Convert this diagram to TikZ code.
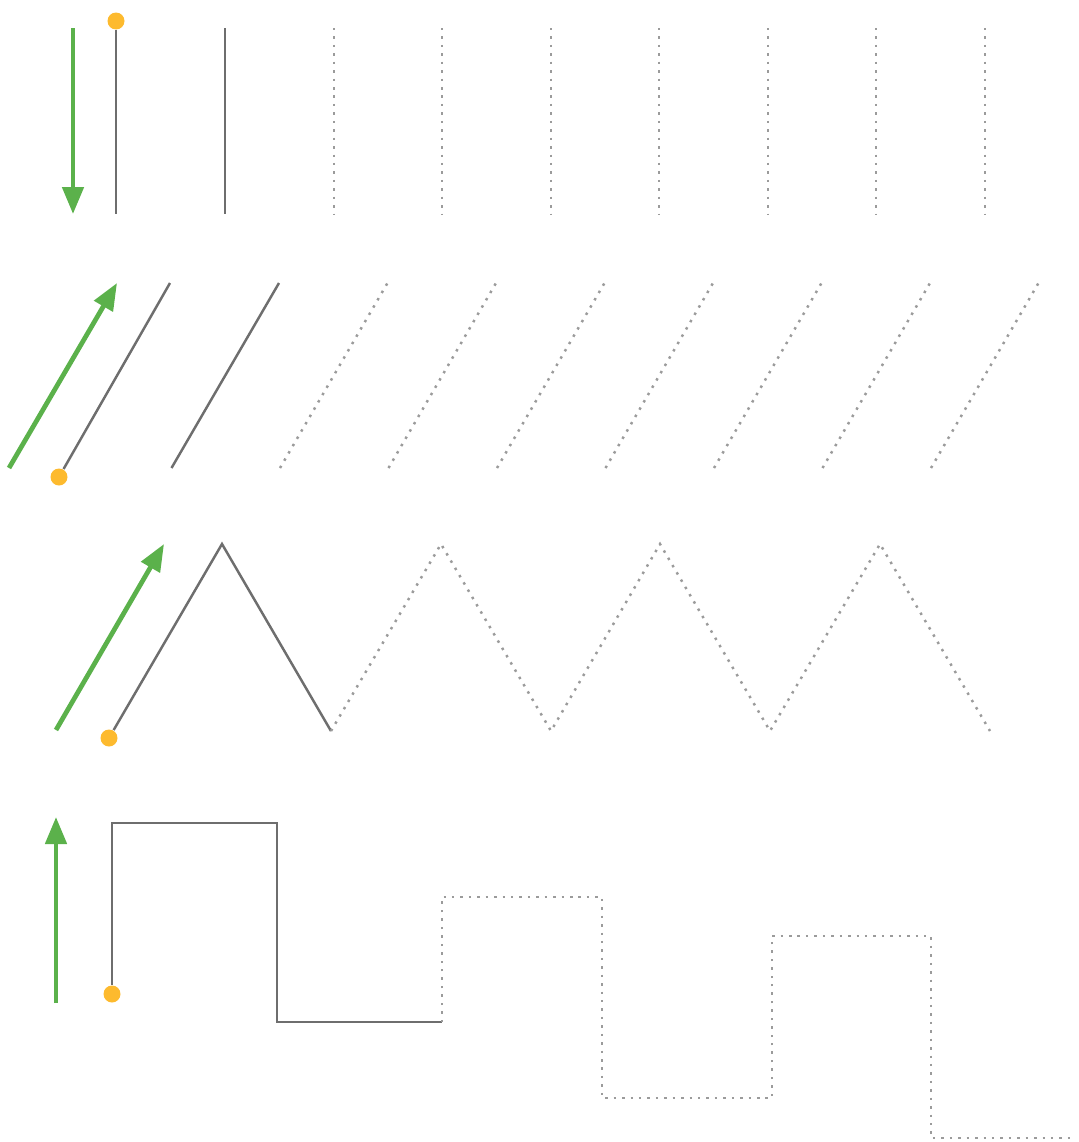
\documentclass[tikz,border=0pt]{standalone}
\usepackage{tikz}
\usetikzlibrary{arrows.meta}
\definecolor{mygreen}{HTML}{5BB14B}
\definecolor{myorange}{HTML}{FDBA2E}
\definecolor{mygray}{HTML}{6E6E6E}
\definecolor{mylightgray}{HTML}{9B9B9B}
\tikzset{
	dirarrow/.style={
			draw=mygreen,
			line width=1.35pt,
			-{Triangle[length=2.7mm, width=2.1mm]}
		},
	solidline/.style={
			draw=mygray,
			line width=0.7pt
		},
	dotline/.style={
			draw=mylightgray,
			line width=0.7pt,
			dash pattern=on 0.7pt off 1.7pt
		},
	startdot/.style={
			circle,
			draw=none,
			fill=myorange,
			minimum size=1.7mm,
			inner sep=0pt
		}
}

\begin{document}
\begin{tikzpicture}[x=0.1mm, y=-0.1mm]
\useasboundingbox (0,0) rectangle (1078,1142);

% row 1
\node[startdot] (d1) at (116,21) {};
\draw[dirarrow] (73,28) -- (73,214);
\draw[solidline] (d1) -- (116,214);
\draw[solidline] (225,28) -- (225,214);
\foreach \x in {334,442,551,659,768,876,985}
	\draw[dotline] (\x,28) -- (\x,214);

% row 2
\node[startdot] (d2) at (59,477) {};
\draw[dirarrow] (9,468) -- (117,283);
\draw[solidline] (d2) -- (170,283);
\draw[solidline] (171.5,468) -- (279,283);
\foreach \x in {280,388.5,497,605.5,714,822.5,931}
	\draw[dotline] (\x,468) -- ++(107.5,-185);

% row 3
\node[startdot] (d3) at (109,738) {};
\draw[dirarrow] (56,730) -- (164,544);
\draw[solidline] (d3) -- (222,544) -- (331,731);
\draw[dotline] (331,731) -- (441,544) -- (551,731) -- (660,544)
	-- (770,731) -- (880,544) -- (990,731);

% row 4
\node[startdot] (d4) at (112,994) {};
\draw[dirarrow] (56,1003) -- (56,817);
\draw[solidline] (d4) -- (112,823) -- (277,823) -- (277,1022) -- (442,1022);
\draw[dotline] (442,1022) -- (442,897) -- (602,897) -- (602,1098) -- (772,1098)
	-- (772,936) -- (931,936) -- (931,1138) -- (1073,1138);

\end{tikzpicture}
\end{document}
